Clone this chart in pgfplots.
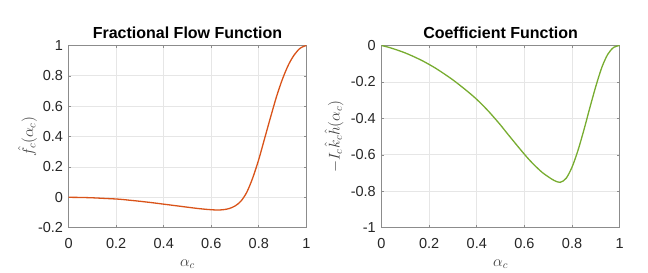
\documentclass[border=0pt]{standalone}
\usepackage{fix-cm}
\usepackage{pgfplots}
\pgfplotsset{compat=1.18}
\usepackage{fontspec}
\newfontfamily\lsans{Liberation Sans}
\definecolor{mlorange}{HTML}{D95319}
\definecolor{mlgreen}{HTML}{77AC30}
\definecolor{tickc}{HTML}{262626}
\definecolor{labc}{HTML}{404040}
\definecolor{axc}{HTML}{8C8C8C}
\definecolor{gridc}{HTML}{E6E6E6}
\pgfplotsset{mystyle/.style={
  scale only axis, height=182.2pt,
  xmin=0, xmax=1,
  xtick={0,0.2,0.4,0.6,0.8,1}, xticklabels={0,0.2,0.4,0.6,0.8,1},
  tick align=inside, major tick length=2.6pt,
  tick style={axc, line width=0.6pt},
  axis line style={axc, line width=0.9pt},
  grid=major, major grid style={gridc, line width=0.8pt},
  ticklabel style={font=\fontsize{14.5}{16}\lsans, text=tickc},
  xticklabel style={anchor=base, yshift=-20.6pt, inner sep=0pt},
  yticklabel style={anchor=east, inner sep=0pt, xshift=-5.5pt},
  every axis title/.style={at={(axis description cs:0.5,1)}, anchor=base, yshift=6.6pt, font=\fontsize{16}{18}\lsans\bfseries, inner sep=0pt},
  every axis x label/.style={at={(axis description cs:0.5,0)}, anchor=base, yshift=-38.5pt, font=\fontsize{15.5}{17}\selectfont, text=labc, inner sep=0pt},
  every axis y label/.style={anchor=base, rotate=90, font=\fontsize{15.5}{17}\selectfont, text=labc, inner sep=0pt},
}}
\begin{document}
\begin{tikzpicture}
\path[use as bounding box] (0,0) rectangle (648pt,273pt);
\begin{axis}[mystyle, at={(68.7pt,45.3pt)}, anchor=south west, width=237.6pt,
  ymin=-0.2, ymax=1,
  ytick={-0.2,0,0.2,0.4,0.6,0.8,1}, yticklabels={-0.2,0,0.2,0.4,0.6,0.8,1},
  title={Fractional Flow Function},
  xlabel={$\alpha_c$},
  ylabel={$\hat{f}_c(\alpha_c)$},
  ylabel style={at={(axis description cs:-0.15,0.5)}},
]
\addplot[mlorange, line width=1.3pt, smooth] coordinates {
(0,0) (0.025,-0.0002) (0.05,-0.0008) (0.075,-0.0018) (0.1,-0.003)
(0.125,-0.005) (0.15,-0.007) (0.175,-0.009) (0.2,-0.011) (0.225,-0.014)
(0.25,-0.018) (0.275,-0.022) (0.3,-0.026) (0.325,-0.0305) (0.35,-0.035)
(0.375,-0.040) (0.4,-0.045) (0.425,-0.050) (0.45,-0.055) (0.475,-0.060)
(0.5,-0.065) (0.525,-0.070) (0.55,-0.0745) (0.575,-0.0785) (0.6,-0.0815)
(0.625,-0.0835) (0.65,-0.0815) (0.675,-0.074) (0.7,-0.057) (0.725,-0.025)
(0.75,0.035) (0.775,0.13) (0.8,0.25) (0.825,0.39) (0.85,0.53)
(0.875,0.665) (0.9,0.78) (0.925,0.873) (0.95,0.94) (0.975,0.983) (1,1)
};
\end{axis}
\begin{axis}[mystyle, at={(381.5pt,45.3pt)}, anchor=south west, width=238.2pt,
  ymin=-1, ymax=0,
  ytick={-1,-0.8,-0.6,-0.4,-0.2,0}, yticklabels={-1,-0.8,-0.6,-0.4,-0.2,0},
  title={Coefficient Function},
  xlabel={$\alpha_c$},
  ylabel={$-I_c\hat{k}_c\hat{h}(\alpha_c)$},
  ylabel style={at={(axis description cs:-0.176,0.5)}},
]
\addplot[mlgreen, line width=1.3pt, smooth] coordinates {
(0,0) (0.025,-0.008) (0.05,-0.018) (0.075,-0.029) (0.1,-0.041)
(0.125,-0.055) (0.15,-0.07) (0.175,-0.086) (0.2,-0.104) (0.225,-0.123)
(0.25,-0.144) (0.275,-0.166) (0.3,-0.189) (0.325,-0.214) (0.35,-0.24)
(0.375,-0.267) (0.4,-0.296) (0.425,-0.328) (0.45,-0.362) (0.475,-0.399)
(0.5,-0.437) (0.525,-0.478) (0.55,-0.518) (0.575,-0.558) (0.6,-0.597)
(0.625,-0.634) (0.65,-0.667) (0.675,-0.697) (0.7,-0.7205) (0.725,-0.741)
(0.75,-0.751) (0.775,-0.729) (0.8,-0.667) (0.825,-0.575) (0.85,-0.462)
(0.875,-0.34) (0.9,-0.223) (0.925,-0.12) (0.95,-0.048) (0.975,-0.01) (1,0)
};
\end{axis}
\end{tikzpicture}
\end{document}
